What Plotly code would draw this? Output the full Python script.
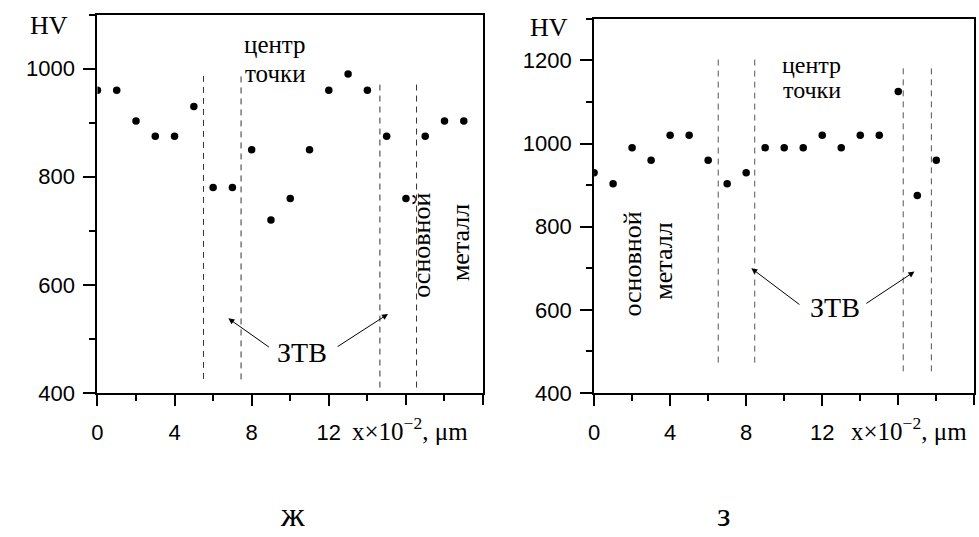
import plotly.graph_objects as go

# ---------------- data ----------------
x_left = list(range(20))
hv_left = [960, 960, 903, 875, 875, 930, 780, 780, 850, 720,
           760, 850, 960, 990, 960, 875, 760, 875, 903, 903]
x_right = list(range(19))
hv_right = [930, 903, 990, 960, 1020, 1020, 960, 903, 930, 990,
            990, 990, 1020, 990, 1020, 1020, 1125, 875, 960]

# zone boundaries (x) and their vertical extents (y0, y1)
bound_left_x = [5.5, 7.45, 14.65, 16.55]
bound_left_y = [(426, 994), (425, 990), (410, 978), (410, 978)]
bound_right_x = [6.53, 8.45, 16.26, 17.74]
bound_right_y = [(473, 1204), (473, 1202), (452, 1182), (452, 1185)]

x_labeled_ticks = [0, 4, 8, 12]
x_unlabeled_ticks = [16, 20]
y_left_ticks = [400, 600, 800, 1000]
y_right_ticks = [400, 600, 800, 1000, 1200]

SERIF = "Liberation Serif, DejaVu Serif, serif"
SANS = "Liberation Sans, Arial, sans-serif"

fig = go.Figure()

fig.add_trace(go.Scatter(x=x_left, y=hv_left, mode="markers",
                         marker=dict(color="black", size=7.5),
                         xaxis="x", yaxis="y", showlegend=False))
fig.add_trace(go.Scatter(x=x_right, y=hv_right, mode="markers",
                         marker=dict(color="black", size=7.5),
                         xaxis="x2", yaxis="y2", showlegend=False))

for bx, (y0, y1) in zip(bound_left_x, bound_left_y):
    fig.add_trace(go.Scatter(x=[bx, bx], y=[y0, y1], mode="lines",
                             line=dict(color="#333", width=1, dash="6px,5px"),
                             xaxis="x", yaxis="y", showlegend=False))
for bx, (y0, y1) in zip(bound_right_x, bound_right_y):
    fig.add_trace(go.Scatter(x=[bx, bx], y=[y0, y1], mode="lines",
                             line=dict(color="#555", width=1, dash="6px,5px"),
                             xaxis="x2", yaxis="y2", showlegend=False))

# invisible traces so the overlay tick axes are drawn
fig.add_trace(go.Scatter(x=x_unlabeled_ticks, y=[None, None], mode="markers",
                         xaxis="x3", yaxis="y", showlegend=False, hoverinfo="skip"))
fig.add_trace(go.Scatter(x=x_unlabeled_ticks, y=[None, None], mode="markers",
                         xaxis="x4", yaxis="y2", showlegend=False, hoverinfo="skip"))

axis_common = dict(showline=True, linecolor="black", linewidth=2, mirror=True,
                   ticks="outside", tickcolor="black", tickwidth=2,
                   showgrid=False, zeroline=False,
                   tickfont=dict(family=SANS, size=22, color="black"))

xminor = dict(dtick=2, tick0=0, ticklen=6, ticks="outside", tickcolor="black", tickwidth=2)
yminor = dict(dtick=100, tick0=400, ticklen=6, ticks="outside", tickcolor="black", tickwidth=2)

extra_ticks = dict(range=[0, 20], tickvals=x_unlabeled_ticks, showticklabels=False,
                   ticks="outside", ticklen=11, tickwidth=2, tickcolor="black",
                   showline=False, showgrid=False, zeroline=False)

fig.update_layout(
    width=979, height=537,
    margin=dict(l=0, r=0, t=0, b=0),
    paper_bgcolor="white", plot_bgcolor="white",
    xaxis=dict(domain=[92/979, 480/979], range=[0, 20], anchor="y",
               tickvals=x_labeled_ticks, ticklen=11,
               ticklabelstandoff=8, minor=xminor, **axis_common),
    yaxis=dict(domain=[1-402.7/537, 1-15/537], range=[400, 1100], anchor="x",
               tickvals=y_left_ticks, ticklen=12, ticklabelstandoff=4,
               minor=yminor, **axis_common),
    xaxis2=dict(domain=[591.7/979, 974.3/979], range=[0, 20], anchor="y2",
                tickvals=x_labeled_ticks, ticklen=11,
                ticklabelstandoff=8, minor=xminor, **axis_common),
    yaxis2=dict(domain=[1-402.7/537, 1-19.3/537], range=[400, 1300], anchor="x2",
                tickvals=y_right_ticks, ticklen=12, ticklabelstandoff=4,
                minor=yminor, **axis_common),
    xaxis3=dict(overlaying="x", anchor="y", side="bottom", **extra_ticks),
    xaxis4=dict(overlaying="x2", anchor="y2", side="bottom", **extra_ticks),
)

ann = []

def text(x, y, t, xref, yref, size=26, angle=0, xanchor="center", yanchor="middle"):
    ann.append(dict(x=x, y=y, xref=xref, yref=yref, text=t, showarrow=False,
                    font=dict(family=SERIF, size=size, color="black"),
                    textangle=angle, xanchor=xanchor, yanchor=yanchor))

def arrow(hx, hy, tx, ty, xr, yr):
    ann.append(dict(x=hx, y=hy, ax=tx, ay=ty, xref=xr, yref=yr, axref=xr, ayref=yr,
                    text="", showarrow=True, arrowhead=2, arrowsize=1.2,
                    arrowwidth=1, arrowcolor="black", standoff=0, startstandoff=0))

# left panel
text(43/979, 1-26/537, "HV", "paper", "paper")
text(9.22, 1044, "центр", "x", "y", size=25)
text(9.22, 992, "точки", "x", "y", size=25)
text(16.83, 674, "основной", "x", "y", angle=-90)
text(18.8, 679, "металл", "x", "y", angle=-90)
text(10.62, 475, "ЗТВ", "x", "y", size=28)
arrow(6.79, 538, 8.97, 483, "x", "y")
arrow(15.07, 546, 12.38, 484, "x", "y")
text(13.1, 1-458/537, "x×10<sup>−2</sup>, μm", "x", "paper", size=25,
     xanchor="left", yanchor="bottom")
text(288/979, 1-527/537, "ж", "paper", "paper", size=34)

# right panel
text(546/979, 1-28/537, "HV", "paper", "paper")
text(11.46, 1190, "центр", "x2", "y2", size=24)
text(11.46, 1130, "точки", "x2", "y2", size=24)
text(2.0, 709, "основной", "x2", "y2", angle=-90)
text(3.68, 716, "металл", "x2", "y2", angle=-90)
text(12.67, 606, "ЗТВ", "x2", "y2", size=28)
arrow(8.27, 700, 10.88, 610, "x2", "y2")
arrow(16.85, 692, 14.24, 613, "x2", "y2")
text(13.4, 1-458/537, "x×10<sup>−2</sup>, μm", "x2", "paper", size=25,
     xanchor="left", yanchor="bottom")
text(722/979, 1-527/537, "з", "paper", "paper", size=34)

fig.update_layout(annotations=ann)
fig.write_html("out.html")
